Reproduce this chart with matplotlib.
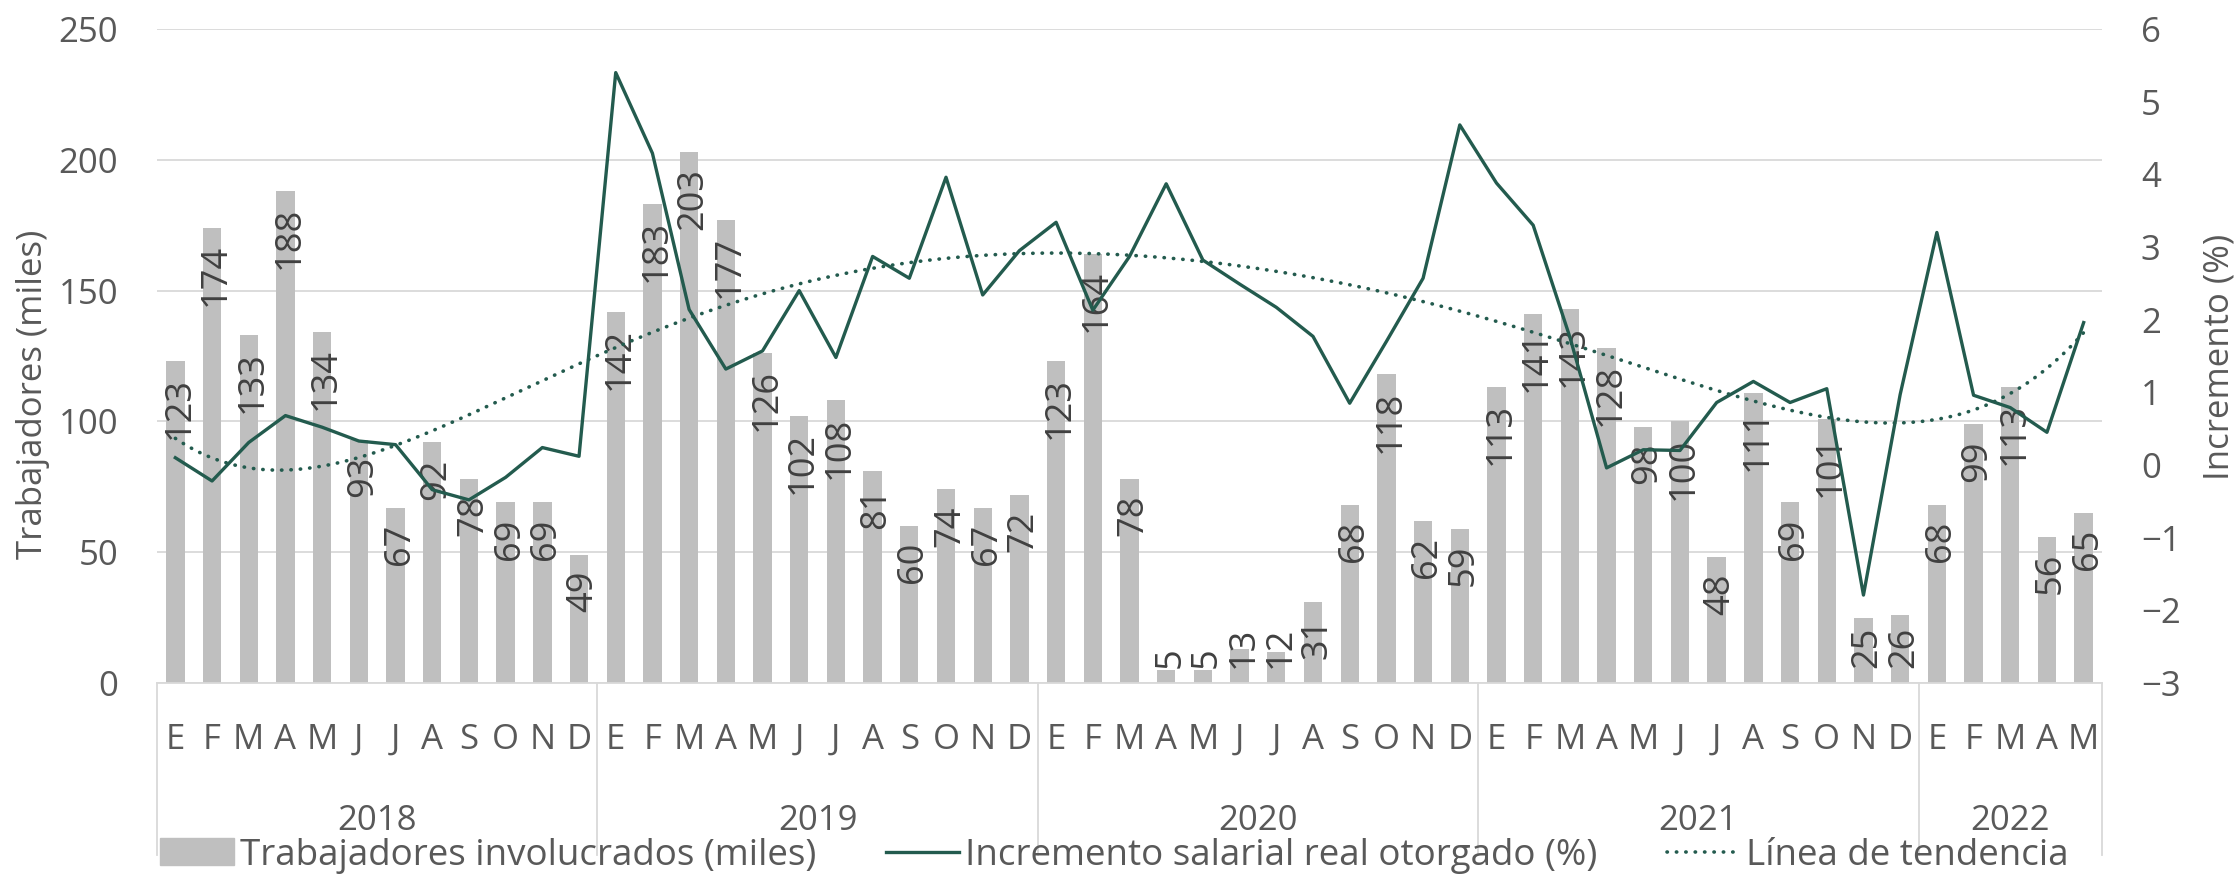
import numpy as np
import matplotlib
matplotlib.use("Agg")
import matplotlib.pyplot as plt
import matplotlib.transforms as mtransforms
from matplotlib.patches import Patch
from matplotlib.lines import Line2D

plt.rcParams['font.family'] = ['Open Sans', 'DejaVu Sans']

# data
years = ["2018", "2019", "2020", "2021", "2022"]
months_per_year = [12, 12, 12, 12, 5]
month_letters = ["E", "F", "M", "A", "M", "J", "J", "A", "S", "O", "N", "D"]

trabajadores = [123, 174, 133, 188, 134, 93, 67, 92, 78, 69, 69, 49,
                142, 183, 203, 177, 126, 102, 108, 81, 60, 74, 67, 72,
                123, 164, 78, 5, 5, 13, 12, 31, 68, 118, 62, 59,
                113, 141, 143, 128, 98, 100, 48, 111, 69, 101, 25, 26,
                68, 99, 113, 56, 65]
incremento = [0.10, -0.22, 0.31, 0.68, 0.52, 0.33, 0.28, -0.34, -0.48, -0.17, 0.24, 0.12,
              5.40, 4.29, 2.14, 1.32, 1.57, 2.40, 1.48, 2.87, 2.57, 3.96, 2.34, 2.95,
              3.34, 2.13, 2.87, 3.87, 2.82, 2.49, 2.17, 1.77, 0.85, 1.70, 2.57, 4.68,
              3.88, 3.30, 1.76, -0.04, 0.21, 0.20, 0.86, 1.15, 0.86, 1.05, -1.79, 0.97,
              3.20, 0.96, 0.79, 0.45, 1.96]
left_ticks = [0, 50, 100, 150, 200, 250]
right_ticks = [-3, -2, -1, 0, 1, 2, 3, 4, 5, 6]
legend_labels = ["Trabajadores involucrados (miles)",
                 "Incremento salarial real otorgado (%)",
                 "Línea de tendencia"]

green = "#235B4E"
bar_grey = "#BFBFBF"
grid_grey = "#D9D9D9"
text_grey = "#595959"
fs = 25

W, H = 2239, 875
fig = plt.figure(figsize=(W / 100, H / 100), dpi=100)
fig.patch.set_facecolor("white")
ax = fig.add_axes([157 / W, 1 - 683 / H, 1945 / W, 654 / H])
ax2 = ax.twinx()

x = np.arange(len(trabajadores))
ax.bar(x, trabajadores, width=0.5, color=bar_grey, zorder=2)
ax.set_xlim(-0.5, len(x) - 0.5)
ax.set_ylim(0, 250)
ax.set_yticks(left_ticks)
ax.yaxis.grid(True, color=grid_grey, lw=1.3, zorder=0)
ax.set_axisbelow(True)
ax.set_xticks([])
ax.tick_params(axis='y', length=0, pad=28, labelsize=fs, labelcolor=text_grey)
for s in ["left", "right", "top"]:
    ax.spines[s].set_visible(False)
ax.spines["bottom"].set_color(grid_grey)
ax.spines["bottom"].set_linewidth(1.3)

# line + polynomial trend
ax2.plot(x, incremento, color=green, lw=2.4, zorder=3)
coef = np.polyfit(x, incremento, 6)
xs = np.linspace(x[0], x[-1], 400)
ax2.plot(xs, np.polyval(coef, xs), color=green, lw=2.6,
         ls=(0, (0.1, 2.5)), dash_capstyle='round', zorder=3)
ax2.set_ylim(-3, 6)
ax2.set_yticks(right_ticks)
ax2.tick_params(axis='y', length=0, pad=28, labelsize=fs, labelcolor=text_grey)
for s in ["left", "right", "top", "bottom"]:
    ax2.spines[s].set_visible(False)

# bar labels, inside end, rotated
labels = []
for i, v in enumerate(trabajadores):
    t = ax.annotate(str(v), xy=(i, v), xytext=(4, -16), textcoords='offset pixels',
                    rotation=90, ha='center', va='top', fontsize=26, color='#404040', zorder=4)
    labels.append(t)
fig.canvas.draw()
renderer = fig.canvas.get_renderer()
y_base = ax.transData.transform((0, 0))[1] + 15
for t in labels:
    bb = t.get_window_extent(renderer)
    if bb.y0 < y_base:
        t.xyann = (4, -16 + (y_base - bb.y0))

# month and year category labels
trans = mtransforms.blended_transform_factory(ax.transData, ax.transAxes)
start = 0
bounds = [-0.5]
for yr, n in zip(years, months_per_year):
    for k in range(n):
        ax.text(start + k, -0.087, month_letters[k], transform=trans, ha='center', va='center',
                fontsize=fs, color=text_grey)
    ax.text(start + (n - 1) / 2, -0.211, yr, transform=trans, ha='center', va='center',
            fontsize=fs, color=text_grey)
    start += n
    bounds.append(start - 0.5)
for b in bounds:
    ax.plot([b, b], [0, -0.263], transform=trans, color=grid_grey, lw=1.3, clip_on=False)

fig.text(33 / W, 1 - 394 / H, "Trabajadores (miles)", rotation=90, ha='center', va='center',
         fontsize=fs, color=text_grey)
fig.text(2220 / W, 1 - 357 / H, "Incremento (%)", rotation=90, ha='center', va='center',
         fontsize=fs, color=text_grey)

handles = [Patch(color=bar_grey),
           Line2D([], [], color=green, lw=2.4),
           Line2D([], [], color=green, lw=2.6, ls=(0, (0.1, 2.5)), dash_capstyle='round')]
fig.legend(handles, legend_labels, loc='center', bbox_to_anchor=(0.4978, 0.022), ncol=3,
           frameon=False, fontsize=26.5, handlelength=2.0, handletextpad=0.15,
           columnspacing=1.9, borderpad=0, handleheight=0.75, labelcolor=text_grey)

fig.savefig("out.png", dpi=100, facecolor="white")
